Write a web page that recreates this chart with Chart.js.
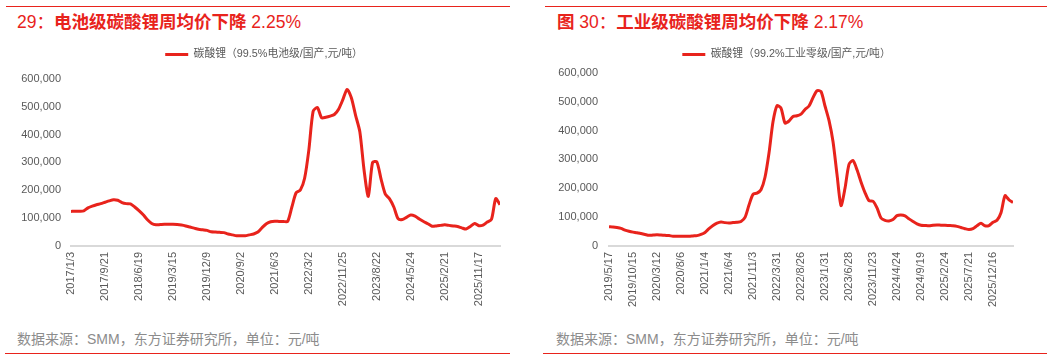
<!DOCTYPE html>
<html>
<head>
<meta charset="utf-8">
<script src="https://cdn.jsdelivr.net/npm/chart.js@4/dist/chart.umd.min.js"></script>
<style>
  body { margin: 0; width: 1061px; height: 360px; background: #fff; overflow: hidden; position: relative;
         font-family: "Liberation Sans", "Noto Sans CJK SC", sans-serif; }
  .rule { position: absolute; height: 1px; background: #e8231c; }
  .title { position: absolute; top: 8px; font-size: 17.5px; color: #e8231c; white-space: nowrap; line-height: 26px; }
  .title b { font-family: "Noto Sans CJK SC", sans-serif; font-weight: 700; }
  .src { position: absolute; top: 329px; font-size: 14px; color: #8c8c8c; white-space: nowrap; line-height: 20px; }
  .box { position: absolute; top: 39px; height: 276px; }
</style>
</head>
<body>
<div class="rule" style="left:6px; width:504px; top:6px"></div>
<div class="rule" style="left:545px; width:502px; top:6px"></div>
<div class="title" style="left:17px">29：<b>电池级碳酸锂周均价下降</b> 2.25%</div>
<div class="title" style="left:557px"><b>图</b> 30：<b>工业级碳酸锂周均价下降</b> 2.17%</div>
<div class="box" style="left:0; width:528px"><canvas id="chart1"></canvas></div>
<div class="box" style="left:530px; width:512px"><canvas id="chart2"></canvas></div>
<div class="src" style="left:17px">数据来源：SMM，东方证券研究所，单位：元/吨</div>
<div class="src" style="left:556px">数据来源：SMM，东方证券研究所，单位：元/吨</div>
<div class="rule" style="left:5px; width:505px; top:353px"></div>
<div class="rule" style="left:543px; width:504px; top:353px"></div>
<script>
// 电池级碳酸锂 99.5%，每个刻度间隔 8 个点
const batteryTicks = ['2017/1/3','2017/9/21','2018/6/19','2019/3/15','2019/12/9','2020/9/2','2021/6/3',
  '2022/3/2','2022/11/25','2023/8/22','2024/5/24','2025/2/21','2025/11/17'];
const batteryStep = 8;
const batteryPrice = [
  124000,125000,125000,126000,137000,143000,148000,152000,157000,162000,
  166000,164000,156000,152000,151000,140000,127000,112000,94000,81000,
  76000,77000,78000,78000,78000,77000,75000,72000,68000,64000,
  60000,58000,56000,51000,50000,49000,48000,43000,40000,37000,
  37000,37000,40000,43000,50000,66000,80000,87000,89000,88000,
  88000,88000,140000,191000,201000,243000,345000,483000,497000,460000,
  462000,466000,472000,491000,525000,562000,532000,469000,410000,272000,
  178000,300000,302000,240000,186000,169000,140000,98000,95000,103000,
  111000,107000,97000,88000,80000,71000,72000,74000,76000,74000,
  72000,70000,65000,61000,70000,81000,73000,75000,86000,96000,
  170000,148000
];

// 工业级碳酸锂 99.2%，每个刻度间隔 6 个点
const industrialTicks = ['2019/5/17','2019/10/15','2020/3/12','2020/8/6','2021/1/4','2021/6/4','2021/11/3',
  '2022/3/31','2022/8/26','2023/1/31','2023/6/28','2023/11/23','2024/4/24','2024/9/19','2025/2/24',
  '2025/7/21','2025/12/16'];
const industrialStep = 6;
const industrialPrice = [
  67000,66000,64000,61000,55000,51000,48000,46000,43000,40000,
  37000,38000,39000,38000,37000,36000,34000,34000,34000,34000,
  34000,35000,36000,40000,47000,60000,71000,79000,83000,81000,
  80000,81000,82000,85000,99000,142000,179000,183000,195000,238000,
  322000,430000,486000,478000,426000,433000,449000,451000,457000,473000,
  485000,514000,538000,535000,485000,435000,362000,248000,140000,200000,
  283000,296000,264000,222000,185000,157000,155000,132000,97000,89000,
  87000,92000,105000,107000,104000,94000,85000,77000,72000,71000,
  70000,72000,73000,72000,72000,71000,70000,68000,64000,60000,
  57000,60000,70000,79000,70000,71000,82000,89000,115000,174000,
  160000,151000
];

Chart.defaults.font.family = '"Liberation Sans", "Noto Sans CJK SC", sans-serif';
Chart.defaults.color = '#595959';

function makeChart(id, legendText, values, ticks, step, yWidth, yPad, padRight, legendGap, legendRight) {
  return new Chart(id, {
    type: 'line',
    data: {
      labels: values.map((v, i) => i),
      datasets: [{
        label: legendText,
        data: values,
        borderColor: '#e8231c',
        backgroundColor: '#e8231c',
        borderWidth: 3,
        pointRadius: 0,
        tension: 0.25,
        fill: false
      }]
    },
    options: {
      responsive: true,
      maintainAspectRatio: false,
      animation: false,
      layout: { padding: { top: 0, right: padRight, left: 0, bottom: 0 } },
      plugins: {
        tooltip: { enabled: false },
        legend: {
          position: 'top',
          labels: {
            usePointStyle: true,
            pointStyle: 'line',
            pointStyleWidth: 23,
            padding: 10,
            color: '#595959',
            font: { size: 10.8 }
          }
        }
      },
      scales: {
        x: {
          type: 'linear',
          min: 0,
          max: values.length - 1,
          afterBuildTicks: (scale) => { scale.ticks = ticks.map((t, i) => ({ value: i * step })); },
          afterFit: (scale) => { scale.height = 69; },
          grid: { display: false, drawTicks: false },
          border: { display: true, color: '#d9d9d9', width: 2 },
          ticks: {
            autoSkip: false,
            maxRotation: 90,
            minRotation: 90,
            padding: 6,
            font: { size: 11 },
            color: '#595959',
            callback: (v) => ticks[Math.round(v / step)]
          }
        },
        y: {
          min: 0,
          max: 600000,
          afterFit: (scale) => { scale.width = yWidth; },
          grid: { display: false, drawTicks: false },
          border: { display: false },
          ticks: {
            stepSize: 100000,
            padding: yPad,
            font: { size: 11 },
            color: '#595959',
            callback: (v) => v.toLocaleString('en-US')
          }
        }
      }
    },
    plugins: [{
      // 图例与绘图区之间留出额外空隙，并让图例在整个画布宽度内居中
      id: 'legendPlace',
      beforeInit(chart) {
        const fit = chart.legend.fit;
        chart.legend.fit = function () {
          fit.call(this);
          this.height += legendGap;
        };
      },
      afterLayout(chart) {
        chart.legend.left = 0;
        chart.legend.right = legendRight;
        chart.legend.width = legendRight;
        chart.legend.adjustHitBoxes();
      }
    }]
  });
}

makeChart('chart1', '碳酸锂（99.5%电池级/国产,元/吨）', batteryPrice, batteryTicks, batteryStep, 71, 10, 28, 9, 528);
makeChart('chart2', '碳酸锂（99.2%工业零级/国产,元/吨）', industrialPrice, industrialTicks, industrialStep, 79, 11, 29, 3, 513);
</script>
</body>
</html>
